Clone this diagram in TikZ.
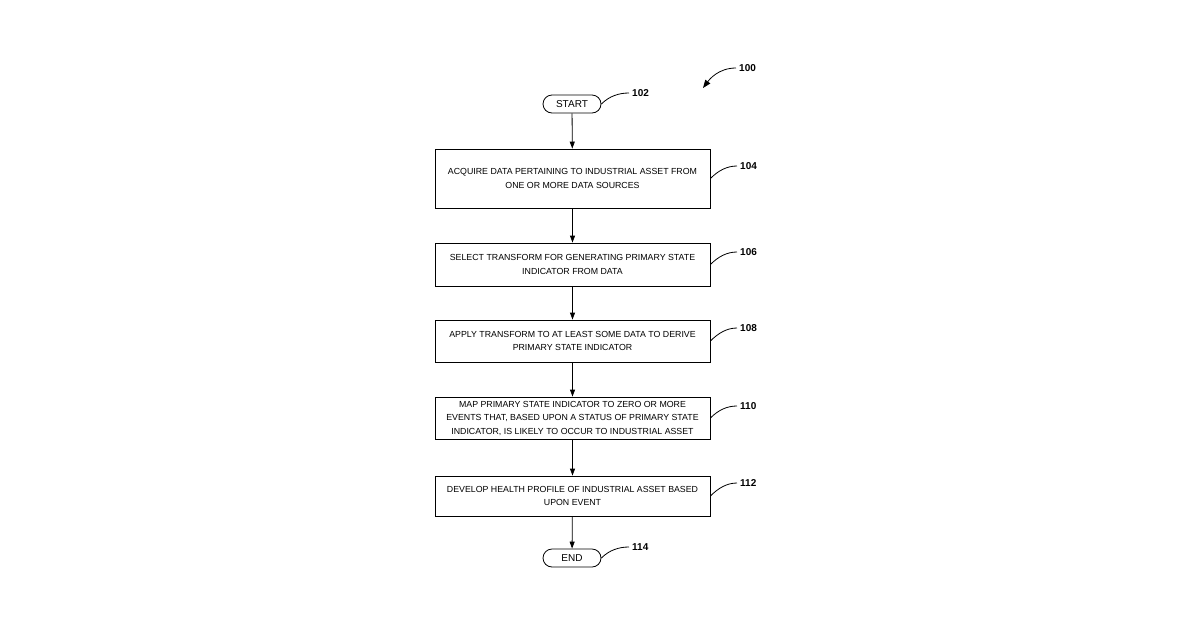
\documentclass[tikz,border=0pt]{standalone}
\usepackage{fontspec}
\setmainfont{Liberation Sans}
\usetikzlibrary{arrows.meta}
\begin{document}
\begin{tikzpicture}[x=1pt,y=-1pt,
  box/.style={draw,line width=0.8pt,minimum width=275pt,align=center,font=\fontsize{8.8}{13.5}\selectfont,inner sep=0pt},
  term/.style={draw,line width=0.8pt,rounded corners=9pt,minimum width=58pt,minimum height=18pt,font=\fontsize{10}{12}\selectfont,inner sep=0pt},
  lab/.style={font=\bfseries\fontsize{10}{12}\selectfont,inner sep=0pt},
  arr/.style={-{Triangle[length=7pt,width=5pt]},line width=0.8pt},
  lead/.style={line width=0.8pt}]
\useasboundingbox (0,0) rectangle (1200,630);
\node[term] (s) at (572,104) {START};
\node[box,minimum height=59pt] (b104) at (572.5,178.5) {ACQUIRE DATA PERTAINING TO INDUSTRIAL ASSET FROM\\ONE OR MORE DATA SOURCES};
\node[box,minimum height=43pt] (b106) at (572.5,264.5) {SELECT TRANSFORM FOR GENERATING PRIMARY STATE\\INDICATOR FROM DATA};
\node[box,minimum height=42pt] (b108) at (572.5,341) {APPLY TRANSFORM TO AT LEAST SOME DATA TO DERIVE\\PRIMARY STATE INDICATOR};
\node[box,minimum height=42pt] (b110) at (572.5,418) {MAP PRIMARY STATE INDICATOR TO ZERO OR MORE\\EVENTS THAT, BASED UPON A STATUS OF PRIMARY STATE\\INDICATOR, IS LIKELY TO OCCUR TO INDUSTRIAL ASSET};
\node[box,minimum height=40pt] (b112) at (572.5,496) {DEVELOP HEALTH PROFILE OF INDUSTRIAL ASSET BASED\\UPON EVENT};
\node[term] (e) at (572,558) {END};
\draw[arr] (s) -- (b104);
\draw[arr] (b104) -- (b106);
\draw[arr] (b106) -- (b108);
\draw[arr] (b108) -- (b110);
\draw[arr] (b110) -- (b112);
\draw[arr] (b112) -- (e);
\node[lab,anchor=west] (l100) at (739,68) {100};
\node[lab,anchor=west] (l102) at (632,93) {102};
\node[lab,anchor=west] (l104) at (740,166) {104};
\node[lab,anchor=west] (l106) at (740,252) {106};
\node[lab,anchor=west] (l108) at (740,328) {108};
\node[lab,anchor=west] (l110) at (740,406) {110};
\node[lab,anchor=west] (l112) at (740,483) {112};
\node[lab,anchor=west] (l114) at (632,547) {114};
\draw[lead] (s.east) .. controls +(8,-8) and +(-10,0) .. ([xshift=-3pt]l102.west);
\foreach \n in {104,106,108,110,112}{
  \draw[lead] (b\n.east) .. controls +(8,-8) and +(-10,0) .. ([xshift=-3pt]l\n.west);
}
\draw[lead] (e.east) .. controls +(8,-8) and +(-10,0) .. ([xshift=-3pt]l114.west);
\draw[line width=0.8pt,-{Triangle[length=8pt,width=6pt]}] ([xshift=-3pt]l100.west) .. controls +(-18,0) and +(6,-8) .. (703,88);
\end{tikzpicture}
\end{document}
